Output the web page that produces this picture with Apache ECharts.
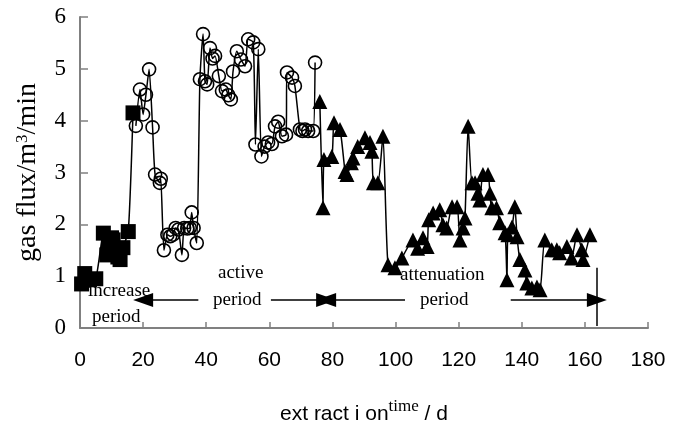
<!DOCTYPE html>
<html>
<head>
<meta charset="utf-8">
<script src="https://cdn.jsdelivr.net/npm/echarts@6/dist/echarts.min.js"></script>
<style>
  html, body { margin: 0; padding: 0; background: #fff; }
  #chart { width: 674px; height: 431px; }
</style>
</head>
<body>
<div id="chart"></div>
<script>
// increase period (squares)
var incDays = [0.5, 1.5, 3, 5, 7.4, 8.5, 9, 10, 10.5, 12, 12.7, 13.6, 15.3, 16.8]
var incFlux = [0.85, 1.05, 0.93, 0.95, 1.83, 1.41, 1.6, 1.74, 1.7, 1.37, 1.32, 1.55, 1.86, 4.15]

// active period (circles)
var actDays = [17.7, 19, 20, 20.9, 21.9, 23, 23.8, 25.3, 25.6, 26.6, 27.7, 28.6, 29.5, 30.3, 31.2, 32.3, 33, 34, 34.8, 35.4, 36, 37,
  38, 39, 39.6, 40.3, 41.2, 42, 42.8, 44, 45, 46.2, 47, 47.8, 48.5, 49.7, 51, 52.3, 53.3, 54.9, 55.6, 56.5, 57.5, 58.5, 59.6, 60.8,
  61.8, 62.8, 64, 65.3, 65.6, 67.2, 68.1, 69.7, 70.5, 71.3, 72.3, 73.9, 74.5]
var actFlux = [3.9, 4.6, 4.12, 4.5, 4.99, 3.87, 2.96, 2.8, 2.88, 1.5, 1.8, 1.77, 1.8, 1.93, 1.9, 1.41, 1.93, 1.92, 1.93, 2.23, 1.93, 1.64,
  4.8, 5.67, 4.76, 4.7, 5.4, 5.2, 5.25, 4.86, 4.57, 4.6, 4.49, 4.41, 4.95, 5.34, 5.18, 5.05, 5.57, 5.51, 3.54, 5.38, 3.31, 3.5, 3.58, 3.55,
  3.89, 3.98, 3.7, 3.73, 4.93, 4.83, 4.67, 3.83, 3.8, 3.83, 3.8, 3.8, 5.12]

// attenuation period (triangles)
var attDays = [76, 77, 77.3, 79.8, 80.5, 82.4, 84, 84.6, 86, 86.5, 88, 90.3, 91.9, 92.5, 93, 94.4, 96, 97.6, 99.8, 102, 105.5, 107,
  108.7, 110, 110.5, 111.9, 114, 115, 116.2, 117.9, 119.5, 120.4, 121.4, 122, 123, 124.2, 125.2, 126.1, 126.7, 127.7, 129.3, 129.9,
  130.5, 132, 133, 134.7, 135.3, 135.6, 136.9, 137.8, 138.5, 139.4, 141, 141.6, 143.2, 144.8, 145.8, 147.3, 149.5, 151.1, 152,
  154.3, 155.8, 157.5, 159, 159.4, 161.6]
var attFlux = [4.37, 2.32, 3.25, 3.31, 3.96, 3.83, 3.02, 2.96, 3.19, 3.28, 3.5, 3.67, 3.58, 3.41, 2.8, 2.8, 3.7, 1.22, 1.16, 1.35, 1.7, 1.54,
  1.74, 1.57, 2.09, 2.22, 2.28, 1.99, 1.93, 2.34, 2.34, 1.7, 1.93, 2.12, 3.89, 2.8, 2.8, 2.6, 2.47, 2.96, 2.96, 2.6,
  2.32, 2.32, 2.03, 1.84, 0.93, 1.8, 1.95, 2.34, 1.76, 1.32, 1.12, 0.87, 0.77, 0.79, 0.74, 1.7, 1.51, 1.51, 1.45,
  1.57, 1.35, 1.8, 1.51, 1.32, 1.8]

var xTicks = [0, 20, 40, 60, 80, 100, 120, 140, 160, 180]

function pairs (xs, ys) {
  return xs.map(function (x, i) { return [x, ys[i]] })
}

var serif = '"Liberation Serif", "DejaVu Serif", serif'
var narrow = '"Liberation Sans Narrow", "Liberation Sans", sans-serif'
var arrowY = 0.54

var chart = echarts.init(document.getElementById('chart'))
var option = {
  animation: false,
  grid: { left: 80, right: 26, top: 17, bottom: 103 },
  xAxis: {
    type: 'value',
    min: 0,
    max: 180,
    interval: 20,
    splitLine: { show: false },
    axisLine: { lineStyle: { color: '#808080', width: 2 } },
    axisTick: { inside: true, length: 6, lineStyle: { color: '#808080', width: 1.5 } },
    axisLabel: {
      margin: 22,
      color: '#000',
      fontFamily: narrow,
      fontSize: 21,
      formatter: function (v) { return xTicks.indexOf(v) >= 0 ? String(v) : '' }
    },
    name: '{a|ext ract i on}{b|time}{a| / d}',
    nameLocation: 'middle',
    nameGap: 70,
    nameTextStyle: {
      rich: {
        a: { fontFamily: narrow, fontSize: 21, color: '#000', verticalAlign: 'bottom' },
        b: { fontFamily: serif, fontSize: 17, color: '#000', padding: [0, 0, 10, 0] }
      }
    }
  },
  yAxis: {
    type: 'value',
    min: 0,
    max: 6,
    interval: 1,
    splitLine: { show: false },
    axisLine: { show: true, lineStyle: { color: '#808080', width: 2 } },
    axisTick: { show: true, inside: true, length: 8, lineStyle: { color: '#808080', width: 1.5 } },
    axisLabel: { margin: 14, color: '#000', fontFamily: serif, fontSize: 23 },
    name: '{a|gas flux/m}{s|3}{a|/min}',
    nameLocation: 'middle',
    nameGap: 38,
    nameTextStyle: {
      rich: {
        a: { fontFamily: serif, fontSize: 28, color: '#000', verticalAlign: 'bottom' },
        s: { fontFamily: serif, fontSize: 17, color: '#000', padding: [0, 0, 11, 0] }
      }
    }
  },
  series: [
    {
      name: 'increase',
      type: 'line',
      smooth: 0.2,
      data: pairs(incDays, incFlux),
      symbol: 'rect',
      symbolSize: 15,
      itemStyle: { color: '#000' },
      lineStyle: { color: '#000', width: 1.5 }
    },
    {
      name: 'active',
      type: 'line',
      smooth: 0.2,
      data: pairs(actDays, actFlux),
      symbol: 'circle',
      symbolSize: 13,
      itemStyle: { color: 'rgba(255,255,255,0)', borderColor: '#000', borderWidth: 1.6 },
      lineStyle: { color: '#000', width: 1.5 }
    },
    {
      name: 'attenuation',
      type: 'line',
      smooth: 0.2,
      clip: false,
      data: pairs(attDays, attFlux),
      symbol: 'triangle',
      symbolSize: 15,
      itemStyle: { color: '#000' },
      lineStyle: { color: '#000', width: 1.5 },
      markLine: {
        silent: true,
        animation: false,
        label: { show: false },
        lineStyle: { color: '#000', width: 1.5, type: 'solid' },
        symbolSize: [14, 20],
        data: [
          [{ coord: [20, -0.05], symbol: 'none' }, { coord: [20, 1.41], symbol: 'none' }],
          [{ coord: [78, -0.2], symbol: 'none' }, { coord: [78, 1.22], symbol: 'none' }],
          [{ coord: [163.8, 0.04], symbol: 'none' }, { coord: [163.8, 1.16], symbol: 'none' }],
          [{ coord: [20, arrowY], symbol: 'triangle' }, { coord: [37.5, arrowY], symbol: 'none' }],
          [{ coord: [60.5, arrowY], symbol: 'none' }, { coord: [78, arrowY], symbol: 'triangle' }],
          [{ coord: [78, arrowY], symbol: 'triangle' }, { coord: [103, arrowY], symbol: 'none' }],
          [{ coord: [136.5, arrowY], symbol: 'none' }, { coord: [163.8, arrowY], symbol: 'triangle' }]
        ]
      }
    }
  ],
  graphic: [
    { type: 'text', left: 88, top: 282, style: { text: 'increase', font: '19px ' + serif, fill: '#000' } },
    { type: 'text', left: 92, top: 308, style: { text: 'period', font: '19px ' + serif, fill: '#000' } },
    { type: 'text', left: 218, top: 264, style: { text: 'active', font: '19px ' + serif, fill: '#000' } },
    { type: 'text', left: 213, top: 291, style: { text: 'period', font: '19px ' + serif, fill: '#000' } },
    { type: 'text', left: 400, top: 266, style: { text: 'attenuation', font: '19px ' + serif, fill: '#000' } },
    { type: 'text', left: 420, top: 291, style: { text: 'period', font: '19px ' + serif, fill: '#000' } }
  ]
}
chart.setOption(option)
</script>
</body>
</html>
